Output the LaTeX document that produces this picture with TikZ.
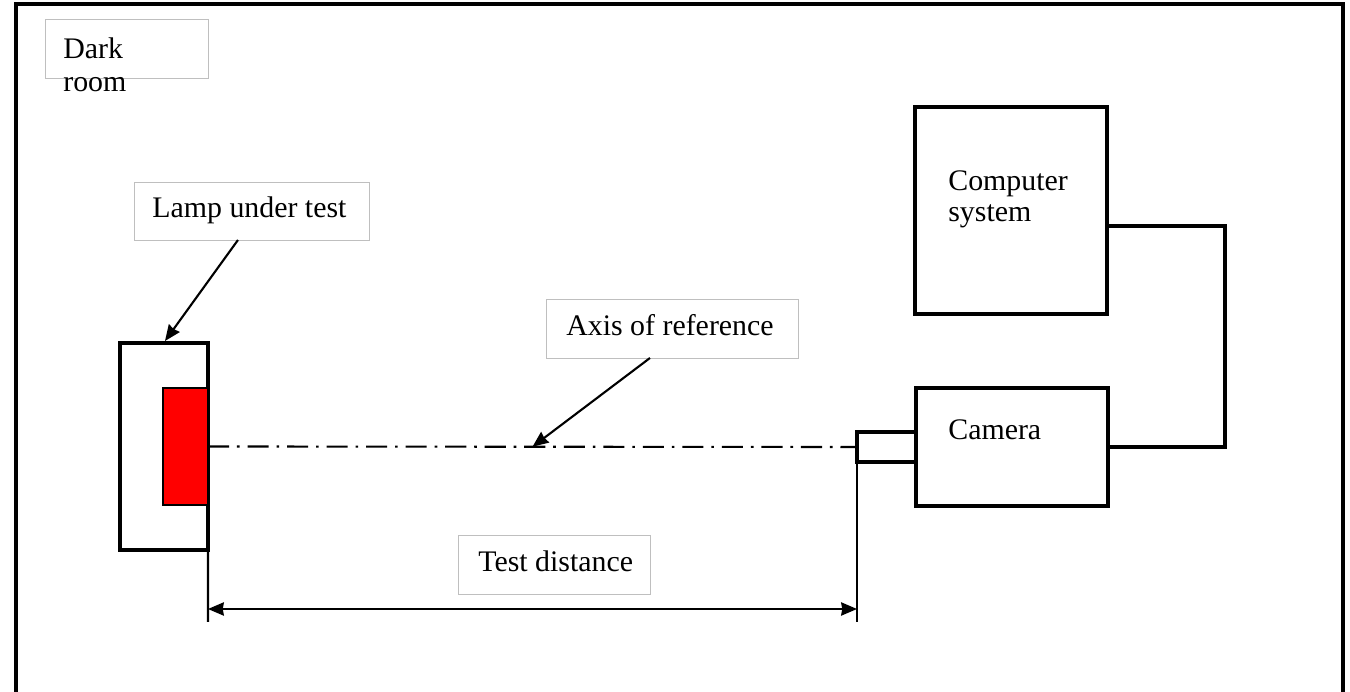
\documentclass[tikz,border=0pt]{standalone}
\usepackage{fontspec}
\setmainfont{Liberation Serif}
\usepackage{tikz}
\usetikzlibrary{arrows.meta,positioning,calc}
\tikzset{frame/.style={draw=black,line width=2pt},
  unit/.style={draw=black,line width=2pt,inner sep=0pt,outer sep=0pt,anchor=north west},
  tag/.style={draw=black!25,line width=0.5pt,inner sep=0pt,outer sep=0pt,anchor=north west,minimum height=1.18cm},
  txt/.style={inner sep=0pt,anchor=base west,align=left,font=\fontsize{17}{19}\selectfont},
  lead/.style={line width=1.2pt,->}}

\begin{document}
\begin{tikzpicture}[x=0.02cm, y=-0.02cm, >={Stealth[length=9pt,width=7.5pt,inset=0.6pt]}]
    \useasboundingbox (0,0) rectangle (1350,692);
    % room wall
    \draw[frame] (16,692) -- (16,4) -- (1343,4) -- (1343,692);
    % label boxes
    \node[tag,minimum width=3.26cm] (darkbox) at (45,19) {};
    \node[tag,minimum width=4.7cm,minimum height=1.16cm] (lampbox) at (134,182) {};
    \node[tag,minimum width=5.04cm] (axisbox) at (546,299) {};
    \node[tag,minimum width=3.84cm] (distbox) at (458,535) {};
    \node[txt] (darktxt) at (63,92) {Dark\\room};
    \node[txt] (lamptxt) at (152,218) {Lamp under test};
    \node[txt] (axistxt) at (566,336) {Axis of reference};
    \node[txt] (disttxt) at (478,572) {Test distance};
    % lamp
    \node[unit,minimum width=1.76cm,minimum height=4.14cm] (lamp) at (120,343) {};
    \node[unit,fill=red,line width=1.3pt,minimum width=0.9cm,minimum height=2.34cm] (led) at (163,388) {};
    % camera and computer
    \node[unit,minimum width=1.18cm,minimum height=0.6cm] (lens) at (857,432) {};
    \node[unit,minimum width=3.84cm,minimum height=2.36cm] (camera) at (916,388) {};
    \node[unit,minimum width=3.84cm,minimum height=4.14cm] (computer) at (915,107) {};
    \node[txt] (camtxt) at (948,440) {Camera};
    \node[txt] (comptxt) at (948,222) {Computer\\[-1pt]system};
    \draw[line width=2pt] ([yshift=-0.31cm]computer.east) -- ++(118,0) |- (camera.east);
    % axis
    \draw[line width=1.2pt,dash pattern=on 12pt off 4.5pt on 1.5pt off 4.5pt] (led.east) -- (lens.west);
    \coordinate (mid) at ($(led.east)!0.5!(lens.west)$);
    \draw[lead] ([xshift=2.08cm]lampbox.south west) -- ([xshift=0.9cm,yshift=0.04cm]lamp.north west);
    \draw[lead] ([xshift=2.08cm]axisbox.south west) -- (mid);
    % test distance
    \coordinate (la) at (208,622);
    \coordinate (lb) at (857,622);
    \draw[line width=1.2pt] (lamp.south east) -- (la);
    \draw[line width=1.2pt] (lens.north west) -- (lb);
    \draw[line width=1.2pt,<->] ([yshift=0.26cm]la) -- ([yshift=0.26cm]lb);
\end{tikzpicture}
\end{document}
